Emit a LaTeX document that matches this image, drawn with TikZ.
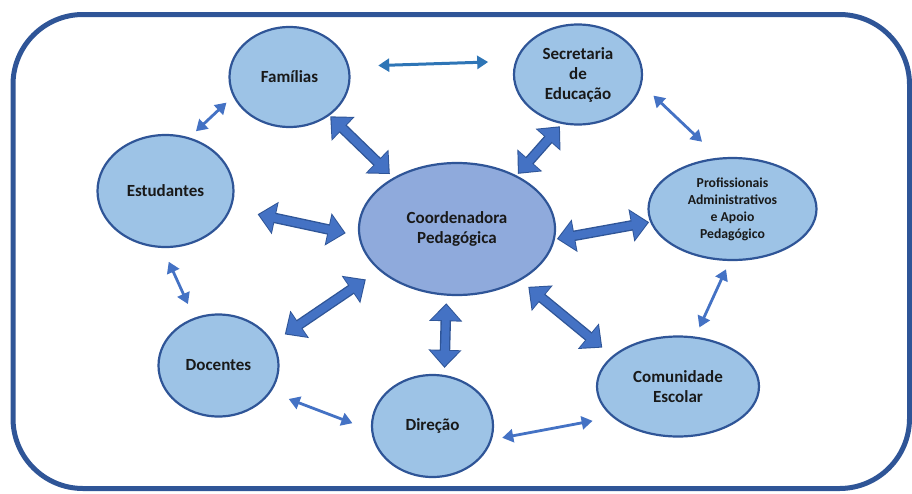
\documentclass[tikz,border=0pt]{standalone}
\usepackage{fontspec}
\setmainfont{Carlito}
\usetikzlibrary{shapes.geometric,arrows.meta}

\definecolor{rim}{HTML}{2F5597}
\definecolor{bubble}{HTML}{9DC3E6}
\definecolor{hub}{HTML}{8FAADC}
\definecolor{link}{HTML}{4472C4}
\definecolor{toplink}{HTML}{2E75B6}

\tikzset{
	actor/.style={ellipse, draw=rim, line width=2.2pt, fill=bubble, inner sep=0pt,
		align=center, text=black!90, font=\bfseries\fontsize{17}{20}\selectfont},
	blockedge/.style={rim, line width=10.5pt,
		arrows={Triangle[width=32pt,length=18pt]-Triangle[width=32pt,length=18pt]}},
	blockfill/.style={link, line width=7.8pt,
		arrows={Triangle[width=28pt,length=15.5pt]-Triangle[width=28pt,length=15.5pt]}},
	thinlink/.style={link, line width=2.8pt,
		arrows={Triangle[width=13pt,length=11pt]-Triangle[width=13pt,length=11pt]}}
}

% block arrow: from, to, gap at start, gap at end
\newcommand\blockarrow[4]{%
	\draw[blockedge, shorten <=#3, shorten >=#4] (#1) -- (#2);
	\draw[blockfill, shorten <=#3+1.6pt, shorten >=#4+1.6pt] (#1) -- (#2);}

\begin{document}
\begin{tikzpicture}[x=1pt,y=-1pt]
	
	\useasboundingbox (0,0) rectangle (912,493);
	\draw[rim, line width=5pt, rounded corners=70pt] (13,14.5) rectangle (909.5,488.5);
	
	% outer ring
	\node[actor, minimum width=120pt, minimum height=100pt] (fam) at (289.5,77) {Famílias};
	\node[actor, minimum width=128pt, minimum height=100pt] (sec) at (578,74.5) {Secretaria\\de\\Educação};
	\node[actor, minimum width=136pt, minimum height=112pt] (est) at (165.5,191) {Estudantes};
	\node[actor, minimum width=168pt, minimum height=102pt,
		font=\bfseries\fontsize{13.7}{17}\selectfont] (prof) at (732.5,209)
		{Profissionais\\Administrativos\\e Apoio\\Pedagógico};
	\node[actor, minimum width=120pt, minimum height=102pt] (doc) at (218.5,365.5) {Docentes};
	\node[actor, minimum width=121pt, minimum height=102pt] (dir) at (432.5,426) {Direção};
	\node[actor, minimum width=162pt, minimum height=100pt] (com) at (678,386.5) {Comunidade\\Escolar};
	
	% centre
	\node[actor, fill=hub, minimum width=196pt, minimum height=132pt] (coord) at (457,229)
		{Coordenadora\\Pedagógica};
	
	% thick arrows to the centre
	\blockarrow{fam.316}{coord.141}{1pt}{5pt}
	\blockarrow{sec.252}{coord.42}{3pt}{2pt}
	\blockarrow{est.345}{coord.184}{27pt}{13pt}
	\blockarrow{prof.189}{coord.354}{1pt}{2pt}
	\blockarrow{doc.23}{coord.208}{14pt}{16pt}
	\blockarrow{dir.77}{coord.261}{7pt}{7.5pt}
	\blockarrow{com.155}{coord.321}{13pt}{10pt}
	
	% thin arrows round the ring
	\draw[thinlink, toplink, line width=3pt, shorten <=29pt, shorten >=27pt] (fam.10) -- (sec.168);
	\draw[thinlink, shorten <=9pt, shorten >=9pt] (fam.199) -- (est.66);
	\draw[thinlink, shorten <=16pt, shorten >=23pt] (sec.351) -- (prof.105);
	\draw[thinlink, shorten <=15pt, shorten >=15pt] (est.267) -- (doc.117);
	\draw[thinlink, shorten <=9pt, shorten >=10pt] (prof.267) -- (com.71);
	\draw[thinlink, shorten <=19pt, shorten >=20pt] (doc.333) -- (dir.184);
	\draw[thinlink, shorten <=10.5pt, shorten >=20pt] (dir.347) -- (com.205);
	
\end{tikzpicture}
\end{document}
